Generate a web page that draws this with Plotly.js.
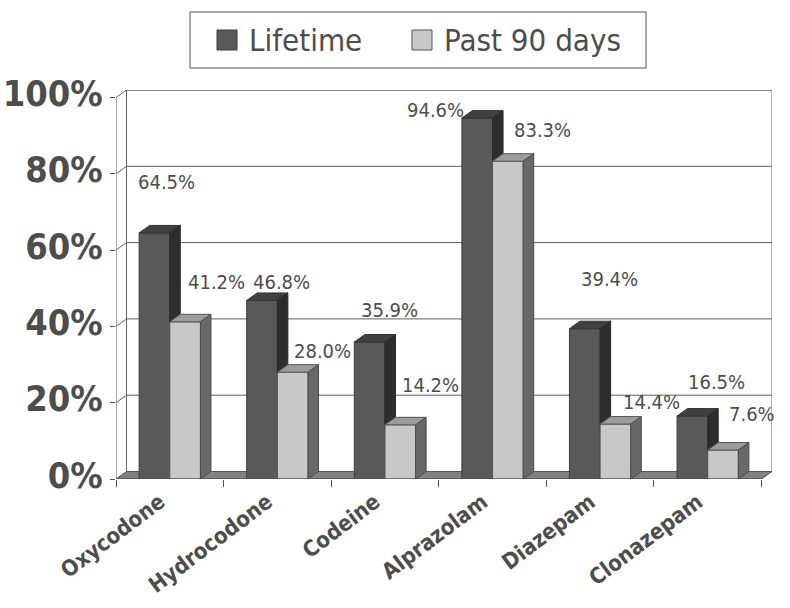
<!DOCTYPE html>
<html>
<head>
<meta charset="utf-8">
<script src="https://cdn.plot.ly/plotly-3.0.1.min.js"></script>
<style>
  html, body { margin: 0; padding: 0; background: #ffffff; }
  #chart { width: 790px; height: 608px; }
</style>
</head>
<body>
<div id="chart"></div>
<script>
// ---- data ----
const categories = ["Oxycodone", "Hydrocodone", "Codeine", "Alprazolam", "Diazepam", "Clonazepam"];
const lifetime = [64.5, 46.8, 35.9, 94.6, 39.4, 16.5];
const past90 = [41.2, 28.0, 14.2, 83.3, 14.4, 7.6];
const seriesNames = ["Lifetime", "Past 90 days"];
const yTickValues = [0, 20, 40, 60, 80, 100];
const yTickLabels = ["0%", "20%", "40%", "60%", "80%", "100%"];

// ---- style / geometry (not data) ----
const FONT = "'DejaVu Sans Condensed', 'DejaVu Sans', sans-serif";
const TXT = "#4d4d4d";
const W = 790, H = 608;
const M = { l: 116, r: 18, t: 90, b: 129 };
const plotW = W - M.l - M.r, plotH = H - M.t - M.b;
const depthXpx = 10.5, depthYpx = 7.5;
const n = categories.length;
const dxU = n * depthXpx / (plotW - depthXpx);
const yMax = yTickValues[yTickValues.length - 1];
const dyU = yMax * depthYpx / (plotH - depthYpx);
const bw = 0.285;
const seriesFill = ["#595959", "#c8c8c8"];
const seriesLine = ["#3c3c3c", "#555555"];
// label pixel nudges (Excel 3D placement)
const lifeLabelShift = [[12, 51], [19, 18], [20, 32], [-42, 8], [25, 50], [24, 34]];
const pastLabelShift = [[31, 40], [30, 21], [30, 40], [35, 31], [36, 22], [29, 36]];

const idx = categories.map((_, i) => i);
const x0 = -0.5, x1 = n - 0.5;
const px2paperX = px => (px - M.l) / plotW;
const px2paperY = py => (H - M.b - py) / plotH;

// polygon builder
function polys(list) {
  const xs = [], ys = [];
  list.forEach(p => { p.forEach(pt => { xs.push(pt[0]); ys.push(pt[1]); }); xs.push(p[0][0]); ys.push(p[0][1]); xs.push(null); ys.push(null); });
  return { xs, ys };
}
const lifeTop = polys(idx.map(i => [[i - bw, lifetime[i]], [i, lifetime[i]], [i + dxU, lifetime[i] + dyU], [i - bw + dxU, lifetime[i] + dyU]]));
const lifeSide = polys(idx.map(i => { const lo = Math.min(past90[i], lifetime[i]); return [[i, lo], [i + dxU, lo + dyU], [i + dxU, lifetime[i] + dyU], [i, lifetime[i]]]; }));
const pastTop = polys(idx.map(i => [[i, past90[i]], [i + bw, past90[i]], [i + bw + dxU, past90[i] + dyU], [i + dxU, past90[i] + dyU]]));
const pastSide = polys(idx.map(i => [[i + bw, 0], [i + bw + dxU, dyU], [i + bw + dxU, past90[i] + dyU], [i + bw, past90[i]]]));

function face(p, fill, line) {
  return { type: "scatter", mode: "lines", x: p.xs, y: p.ys, fill: "toself", fillcolor: fill,
    line: { color: line, width: 1 }, hoverinfo: "skip", showlegend: false, connectgaps: false };
}

const traces = [
  { type: "bar", name: seriesNames[0], x: idx, y: lifetime, width: bw, offset: -bw,
    marker: { color: seriesFill[0], line: { color: seriesLine[0], width: 1 } }, hoverinfo: "skip", showlegend: false },
  { type: "bar", name: seriesNames[1], x: idx, y: past90, width: bw, offset: 0,
    marker: { color: seriesFill[1], line: { color: seriesLine[1], width: 1 } }, hoverinfo: "skip", showlegend: false },
  face(lifeTop, "#404040", "#333333"),
  face(lifeSide, "#2d2d2d", "#2a2a2a"),
  face(pastTop, "#9c9c9c", "#555555"),
  face(pastSide, "#686868", "#4a4a4a")
];

// shapes: back wall, side wall gridlines, floor
const shapes = [];
const gridCol = "#5f5f5f";
yTickValues.forEach(v => {
  if (v === 0) return;
  shapes.push({ type: "path", xref: "x", yref: "y", layer: "below",
    path: `M${x0},${v} L${x0 + dxU},${v + dyU} L${x1 + dxU},${v + dyU}`,
    line: { color: gridCol, width: 1 } });
});
shapes.push({ type: "path", xref: "x", yref: "y", layer: "below",
  path: `M${x0 + dxU},${dyU} L${x0 + dxU},${yMax + dyU} L${x1 + dxU},${yMax + dyU} L${x1 + dxU},${dyU}`,
  line: { color: "#666666", width: 1 } });
shapes.push({ type: "path", xref: "x", yref: "y", layer: "below",
  path: `M${x0},0 L${x1},0 L${x1 + dxU},${dyU} L${x0 + dxU},${dyU} Z`,
  fillcolor: "#808080", line: { color: "#555555", width: 1 } });
shapes.push({ type: "line", xref: "x", yref: "y", layer: "above", x0: x0, x1: x0, y0: 0, y1: yMax,
  line: { color: "#555555", width: 1 } });
shapes.push({ type: "line", xref: "x", yref: "y", layer: "above", x0: x0, x1: x1, y0: 0, y1: 0,
  line: { color: "#555555", width: 1 } });

// legend (drawn manually for Excel-like box and swatches)
const legBox = { l: 190, r: 646, t: 12, b: 68 };
const legSwatchX = [217, 412], legSwatchSize = 20, legMidY = 40, legTextGap = 10;
shapes.push({ type: "rect", xref: "paper", yref: "paper", layer: "above",
  x0: px2paperX(legBox.l), x1: px2paperX(legBox.r), y0: px2paperY(legBox.b), y1: px2paperY(legBox.t),
  line: { color: "#555555", width: 1 }, fillcolor: "rgba(0,0,0,0)" });
const annotations = [];
seriesNames.forEach((name, s) => {
  shapes.push({ type: "rect", xref: "paper", yref: "paper", layer: "above",
    x0: px2paperX(legSwatchX[s]), x1: px2paperX(legSwatchX[s] + legSwatchSize),
    y0: px2paperY(legMidY + legSwatchSize / 2), y1: px2paperY(legMidY - legSwatchSize / 2),
    fillcolor: seriesFill[s], line: { color: seriesLine[s], width: 1 } });
  annotations.push({ xref: "paper", yref: "paper", x: px2paperX(legSwatchX[s] + legSwatchSize + legTextGap),
    y: px2paperY(legMidY), xanchor: "left", yanchor: "middle", showarrow: false, text: name,
    font: { family: FONT, size: 31, color: TXT } });
});

// data labels
idx.forEach(i => {
  annotations.push({ x: i - bw / 2, y: lifetime[i], xref: "x", yref: "y", text: lifetime[i].toFixed(1) + "%",
    showarrow: false, xanchor: "center", yanchor: "middle",
    xshift: lifeLabelShift[i][0], yshift: lifeLabelShift[i][1], font: { family: FONT, size: 20, color: TXT } });
  annotations.push({ x: i + bw / 2, y: past90[i], xref: "x", yref: "y", text: past90[i].toFixed(1) + "%",
    showarrow: false, xanchor: "center", yanchor: "middle",
    xshift: pastLabelShift[i][0], yshift: pastLabelShift[i][1], font: { family: FONT, size: 20, color: TXT } });
});

const boundaries = [];
for (let i = 0; i <= n; i++) boundaries.push(i - 0.5);

const layout = {
  width: W, height: H,
  margin: M,
  paper_bgcolor: "#ffffff", plot_bgcolor: "rgba(0,0,0,0)",
  showlegend: false,
  xaxis: {
    range: [x0, x1 + dxU], tickmode: "array", tickvals: idx, ticktext: categories,
    tickangle: -37, ticks: "", showgrid: false, zeroline: false, showline: false,
    tickfont: { family: FONT, size: 22, color: TXT, weight: "bold" },
    ticklabelshift: -10, ticklabelstandoff: 5,
    minor: { tickmode: "array", tickvals: boundaries, ticks: "outside", ticklen: 7, tickcolor: "#555555", showgrid: false },
    fixedrange: true
  },
  yaxis: {
    range: [0, yMax + dyU], tickmode: "array", tickvals: yTickValues, ticktext: yTickLabels,
    ticks: "outside", ticklen: 5, tickcolor: "#555555", showgrid: false, zeroline: false, showline: false,
    tickfont: { family: FONT, size: 36, color: TXT, weight: "bold" },
    ticklabelstandoff: 0, ticklabelshift: -4, fixedrange: true
  },
  shapes: shapes,
  annotations: annotations,
  hovermode: false
};

Plotly.newPlot("chart", traces, layout, { staticPlot: true, displayModeBar: false });
</script>
</body>
</html>
